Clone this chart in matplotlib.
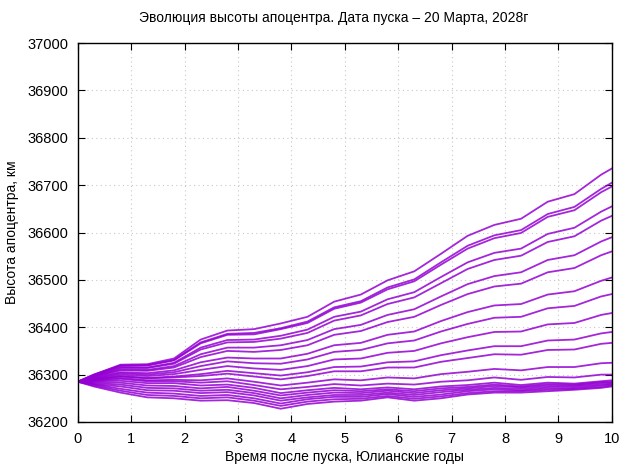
import numpy as np
import matplotlib
matplotlib.use('Agg')
import matplotlib.pyplot as plt

plt.rcParams['font.family'] = ['Liberation Sans', 'DejaVu Sans']

# время после пуска, юлианские годы
t_years = [0, 0.3, 0.8, 1.3, 1.8, 2.3, 2.8, 3.3, 3.8, 4.3, 4.8, 5.3, 5.8, 6.3, 6.8, 7.3, 7.8, 8.3, 8.8, 9.3, 9.8, 10]

# высота апоцентра, км (по вариантам)
h01 = [36285, 36300, 36321, 36322, 36334, 36374, 36393, 36396, 36408, 36422, 36454, 36469, 36499, 36518, 36555, 36593, 36616, 36629, 36665, 36681, 36722, 36735]
h02 = [36285, 36300, 36319, 36320, 36331, 36368, 36386, 36388, 36398, 36412, 36442, 36455, 36484, 36501, 36537, 36572, 36594, 36605, 36639, 36654, 36692, 36705]
h03 = [36285, 36299, 36319, 36319, 36330, 36366, 36384, 36385, 36396, 36409, 36439, 36452, 36480, 36497, 36532, 36566, 36588, 36599, 36633, 36647, 36685, 36697]
h04 = [36285, 36298, 36316, 36315, 36325, 36357, 36373, 36374, 36382, 36395, 36422, 36433, 36459, 36474, 36506, 36537, 36557, 36566, 36597, 36610, 36644, 36655]
h05 = [36285, 36297, 36314, 36314, 36323, 36353, 36368, 36369, 36376, 36388, 36414, 36425, 36449, 36463, 36493, 36523, 36542, 36551, 36580, 36592, 36625, 36635]
h06 = [36285, 36296, 36311, 36310, 36318, 36343, 36357, 36357, 36362, 36373, 36396, 36405, 36426, 36438, 36465, 36491, 36508, 36516, 36542, 36552, 36581, 36590]
h07 = [36285, 36295, 36309, 36308, 36315, 36337, 36350, 36348, 36352, 36362, 36384, 36392, 36411, 36422, 36447, 36470, 36486, 36492, 36516, 36525, 36552, 36560]
h08 = [36285, 36294, 36305, 36303, 36309, 36326, 36336, 36334, 36334, 36344, 36362, 36367, 36384, 36391, 36413, 36432, 36446, 36449, 36469, 36476, 36498, 36505]
h09 = [36285, 36292, 36303, 36300, 36305, 36318, 36328, 36324, 36323, 36332, 36348, 36352, 36366, 36372, 36391, 36407, 36420, 36422, 36440, 36445, 36465, 36470]
h10 = [36285, 36291, 36300, 36297, 36301, 36310, 36318, 36313, 36310, 36318, 36332, 36334, 36346, 36350, 36366, 36379, 36390, 36391, 36406, 36409, 36426, 36430]
h11 = [36285, 36290, 36297, 36293, 36296, 36301, 36308, 36303, 36298, 36305, 36316, 36317, 36326, 36328, 36341, 36351, 36360, 36360, 36372, 36374, 36387, 36390]
h12 = [36285, 36289, 36296, 36292, 36294, 36297, 36302, 36296, 36290, 36297, 36307, 36307, 36315, 36315, 36327, 36335, 36343, 36342, 36352, 36353, 36365, 36367]
h13 = [36285, 36288, 36293, 36288, 36289, 36288, 36292, 36285, 36277, 36283, 36290, 36288, 36294, 36292, 36301, 36306, 36312, 36309, 36316, 36316, 36324, 36325]
h14 = [36285, 36287, 36291, 36286, 36286, 36283, 36286, 36278, 36269, 36274, 36280, 36277, 36281, 36279, 36285, 36288, 36294, 36289, 36295, 36294, 36300, 36300]
h15 = [36285, 36286, 36287, 36282, 36282, 36277, 36279, 36272, 36261, 36267, 36272, 36269, 36273, 36269, 36275, 36278, 36283, 36278, 36283, 36281, 36286, 36288]
h16 = [36285, 36284, 36283, 36277, 36276, 36271, 36274, 36266, 36256, 36262, 36267, 36265, 36269, 36265, 36271, 36274, 36279, 36275, 36280, 36279, 36284, 36285]
h17 = [36285, 36282, 36279, 36272, 36271, 36266, 36268, 36261, 36250, 36257, 36262, 36261, 36266, 36261, 36267, 36271, 36276, 36273, 36277, 36277, 36282, 36283]
h18 = [36285, 36280, 36275, 36267, 36266, 36261, 36263, 36256, 36245, 36252, 36257, 36257, 36262, 36257, 36263, 36268, 36272, 36270, 36274, 36275, 36279, 36281]
h19 = [36285, 36279, 36270, 36262, 36260, 36255, 36257, 36250, 36239, 36248, 36253, 36253, 36259, 36253, 36258, 36265, 36269, 36267, 36271, 36272, 36277, 36279]
h20 = [36285, 36277, 36266, 36257, 36255, 36250, 36252, 36245, 36234, 36243, 36248, 36249, 36255, 36249, 36254, 36261, 36265, 36265, 36268, 36270, 36274, 36277]
h21 = [36285, 36275, 36262, 36252, 36250, 36245, 36246, 36240, 36228, 36238, 36243, 36245, 36252, 36245, 36250, 36258, 36262, 36262, 36265, 36268, 36272, 36275]

curves = [h01, h02, h03, h04, h05, h06, h07, h08, h09, h10, h11,
          h12, h13, h14, h15, h16, h17, h18, h19, h20, h21]

fig = plt.figure(figsize=(6.23, 4.65), dpi=100)
ax = fig.add_axes([0.125, 0.0925, 0.857, 0.815])

for h in curves:
    ax.plot(t_years, h, color='#9400d3', lw=1.3, alpha=0.85)

ax.set_xlim(0, 10)
ax.set_ylim(36200, 37000)
ax.set_xticks(np.arange(0, 11, 1))
ax.set_yticks(np.arange(36200, 37001, 100))
ax.tick_params(direction='in', length=5, top=True, right=True,
               labelsize=10.5, pad=7)
ax.grid(True, color='#c8c8c8', linestyle=(0, (1, 3)), lw=0.8)
for s in ax.spines.values():
    s.set_linewidth(1.0)

ax.set_xlabel('Время после пуска, Юлианские годы', fontsize=10, labelpad=3)
ax.set_ylabel('Высота апоцентра, км', fontsize=10, labelpad=6)
fig.text(0.535, 0.961, 'Эволюция высоты апоцентра. Дата пуска – 20 Марта, 2028г',
         ha='center', va='center', fontsize=10)

fig.savefig('out.png', dpi=100)
